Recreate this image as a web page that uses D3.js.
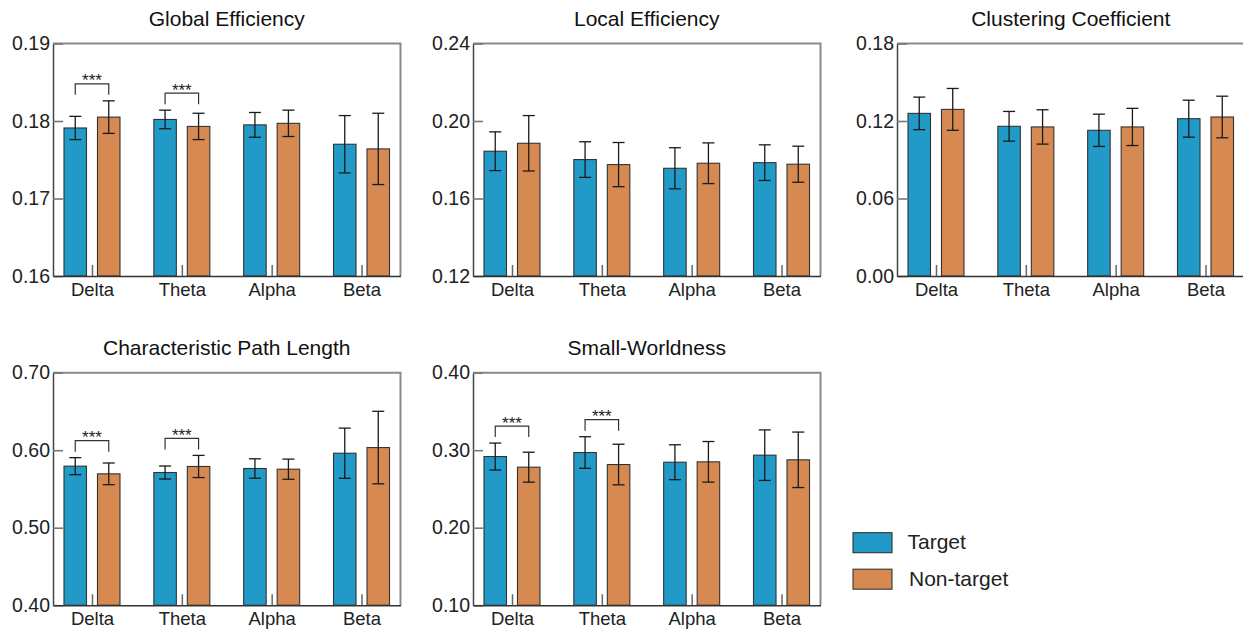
<!DOCTYPE html>
<html>
<head>
<meta charset="utf-8">
<script src="https://cdn.jsdelivr.net/npm/d3@7"></script>
<style>
  body { margin: 0; background: #fff; }
  svg { display: block; font-family: "Liberation Sans", Arial, sans-serif; }
</style>
</head>
<body>
<svg id="svg1" width="1243" height="629"></svg>
<script>
// bands and groups
var bands = ["Delta", "Theta", "Alpha", "Beta"];
var groups = ["Target", "Non-target"];

// Global Efficiency
var geTarget = [0.1791, 0.1802, 0.1795, 0.1770];
var geTargetErr = [0.0015, 0.0012, 0.0016, 0.0037];
var geNon = [0.1805, 0.1793, 0.1797, 0.1764];
var geNonErr = [0.0021, 0.0017, 0.0017, 0.0046];
var geTicks = [0.16, 0.17, 0.18, 0.19];

// Local Efficiency
var leTarget = [0.1844, 0.1801, 0.1756, 0.1785];
var leTargetErr = [0.0100, 0.0092, 0.0106, 0.0092];
var leNon = [0.1885, 0.1775, 0.1782, 0.1777];
var leNonErr = [0.0143, 0.0114, 0.0105, 0.0093];
var leTicks = [0.12, 0.16, 0.20, 0.24];

// Clustering Coefficient
var ccTarget = [0.1259, 0.1159, 0.1128, 0.1218];
var ccTargetErr = [0.0126, 0.0115, 0.0125, 0.0143];
var ccNon = [0.1290, 0.1154, 0.1154, 0.1231];
var ccNonErr = [0.0162, 0.0133, 0.0144, 0.0161];
var ccTicks = [0.00, 0.06, 0.12, 0.18];

// Characteristic Path Length
var cplTarget = [0.5794, 0.5712, 0.5764, 0.5961];
var cplTargetErr = [0.0110, 0.0084, 0.0125, 0.0324];
var cplNon = [0.5695, 0.5790, 0.5755, 0.6034];
var cplNonErr = [0.0140, 0.0143, 0.0130, 0.0468];
var cplTicks = [0.40, 0.50, 0.60, 0.70];

// Small-Worldness
var swTarget = [0.2918, 0.2970, 0.2845, 0.2936];
var swTargetErr = [0.0174, 0.0204, 0.0225, 0.0326];
var swNon = [0.2781, 0.2815, 0.2850, 0.2876];
var swNonErr = [0.0193, 0.0262, 0.0262, 0.0358];
var swTicks = [0.10, 0.20, 0.30, 0.40];

var colors = ["#219ac7", "#d68a52"];

var panels = [
    {title: "Global Efficiency", left: 53, top: 43.5, t: geTarget, te: geTargetErr, n: geNon, ne: geNonErr, ticks: geTicks, sig: ["Delta", "Theta"]},
    {title: "Local Efficiency", left: 473, top: 43.5, t: leTarget, te: leTargetErr, n: leNon, ne: leNonErr, ticks: leTicks, sig: []},
    {title: "Clustering Coefficient", left: 897, top: 43.5, t: ccTarget, te: ccTargetErr, n: ccNon, ne: ccNonErr, ticks: ccTicks, sig: []},
    {title: "Characteristic Path Length", left: 53, top: 372.7, t: cplTarget, te: cplTargetErr, n: cplNon, ne: cplNonErr, ticks: cplTicks, sig: ["Delta", "Theta"]},
    {title: "Small-Worldness", left: 473, top: 372.7, t: swTarget, te: swTargetErr, n: swNon, ne: swNonErr, ticks: swTicks, sig: ["Delta", "Theta"]}
];

var width = 347.5, height = 232.5;
var svg = d3.select("#svg1");

// position of the bands and of the two bars in each band
var xScale = d3.scalePoint().domain(bands).range([0, width]).padding(0.434);
var xSub = d3.scaleBand().domain(groups).range([-28, 28]).paddingInner(0.328);

panels.forEach(function(p) {
    var g = svg.append("g").attr("transform", `translate(${p.left}, ${p.top})`);
    var yScale = d3.scaleLinear().domain([p.ticks[0], p.ticks[p.ticks.length - 1]]).range([height, 0]);

    var rows = bands.map(function(b, i) {
        return [
            {band: b, group: groups[0], mean: p.t[i], err: p.te[i], color: colors[0]},
            {band: b, group: groups[1], mean: p.n[i], err: p.ne[i], color: colors[1]}
        ];
    });
    var data = rows.flat();

    // top and right borders
    g.append("path")
        .attr("d", `M0,0H${width}V${height}`)
        .attr("fill", "none")
        .attr("stroke", "#8a8a8a")
        .attr("stroke-width", 2);

    // bars
    g.selectAll("rect.bar")
        .data(data)
        .enter()
        .append("rect")
        .attr("class", "bar")
        .attr("x", d => xScale(d.band) + xSub(d.group))
        .attr("width", xSub.bandwidth())
        .attr("y", d => yScale(d.mean))
        .attr("height", d => yScale(p.ticks[0]) - yScale(d.mean))
        .attr("fill", d => d.color)
        .attr("stroke", "#333")
        .attr("stroke-width", 1.1);

    // error bars
    var eb = g.selectAll("g.err")
        .data(data)
        .enter()
        .append("g")
        .attr("class", "err")
        .attr("stroke", "#1a1a1a")
        .attr("stroke-width", 1.3);
    eb.append("line")
        .attr("x1", d => xScale(d.band) + xSub(d.group) + xSub.bandwidth() / 2)
        .attr("x2", d => xScale(d.band) + xSub(d.group) + xSub.bandwidth() / 2)
        .attr("y1", d => yScale(d.mean + d.err))
        .attr("y2", d => yScale(d.mean - d.err));
    [1, -1].forEach(function(s) {
        eb.append("line")
            .attr("x1", d => xScale(d.band) + xSub(d.group) + xSub.bandwidth() / 2 - 6)
            .attr("x2", d => xScale(d.band) + xSub(d.group) + xSub.bandwidth() / 2 + 6)
            .attr("y1", d => yScale(d.mean + s * d.err))
            .attr("y2", d => yScale(d.mean + s * d.err));
    });

    // y axis
    g.append("g")
        .call(d3.axisLeft(yScale).tickValues(p.ticks).tickFormat(d3.format(".2f")).tickSizeInner(-10).tickSizeOuter(0).tickPadding(3))
        .call(a => a.select(".domain").attr("stroke", "#444").attr("stroke-width", 1.5))
        .call(a => a.selectAll(".tick line").attr("stroke", "#777").attr("stroke-width", 1.6))
        .call(a => a.selectAll(".tick text").attr("fill", "#222").style("font-size", "19.5px").attr("font-family", null));

    // x axis
    g.append("g")
        .attr("transform", `translate(0, ${height})`)
        .call(d3.axisBottom(xScale).tickSizeInner(-11).tickSizeOuter(0).tickPadding(7))
        .call(a => a.select(".domain").attr("stroke", "#333").attr("stroke-width", 1.5))
        .call(a => a.selectAll(".tick line").attr("stroke", "#666").attr("stroke-width", 1.5))
        .call(a => a.selectAll(".tick text").attr("fill", "#222").style("font-size", "18.5px").attr("font-family", null));

    // significance brackets
    p.sig.forEach(function(b) {
        var pair = data.filter(d => d.band == b);
        var topY = d3.min(pair, d => yScale(d.mean + d.err));
        var xa = xScale(b) + xSub(groups[0]) + xSub.bandwidth() / 2;
        var xb = xScale(b) + xSub(groups[1]) + xSub.bandwidth() / 2;
        g.append("path")
            .attr("d", `M${xa},${topY - 6}V${topY - 17}H${xb}V${topY - 6}`)
            .attr("fill", "none")
            .attr("stroke", "#333")
            .attr("stroke-width", 1.2);
        g.append("text")
            .attr("x", (xa + xb) / 2)
            .attr("y", topY - 14.5)
            .style("text-anchor", "middle")
            .style("font-size", "17px")
            .attr("fill", "#222")
            .text("***");
    });

    // title
    g.append("text")
        .attr("x", width / 2)
        .attr("y", -17.5)
        .style("text-anchor", "middle")
        .style("font-size", "21px")
        .attr("fill", "#111")
        .text(p.title);
});

// legend
var legend = svg.append("g").attr("transform", "translate(853, 532.7)");
legend.selectAll("rect")
    .data(groups)
    .enter()
    .append("rect")
    .attr("x", 0)
    .attr("y", (d, i) => i * 36.5)
    .attr("width", 39)
    .attr("height", 20)
    .attr("fill", (d, i) => colors[i])
    .attr("stroke", "#333")
    .attr("stroke-width", 1.1);
legend.selectAll("text")
    .data(groups)
    .enter()
    .append("text")
    .attr("x", (d, i) => 54.5 + i * 1.5)
    .attr("y", (d, i) => 16.5 + i * 36.5)
    .style("font-size", "21px")
    .attr("fill", "#222")
    .text(d => d);
</script>
</body>
</html>
